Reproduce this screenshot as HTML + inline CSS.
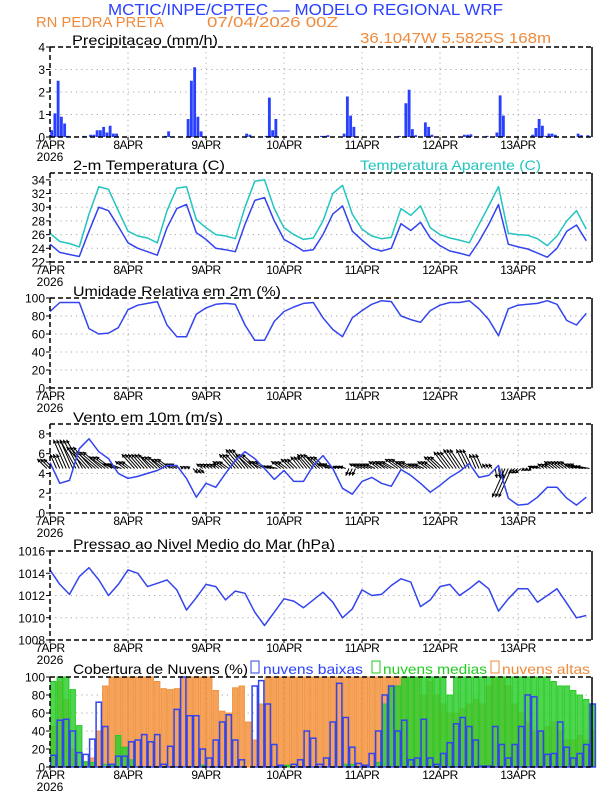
<!DOCTYPE html>
<html><head><meta charset="utf-8"><style>
html,body{margin:0;padding:0;background:#fff;}
svg{display:block;font-family:"Liberation Sans",sans-serif;}
</style></head><body>
<svg id="chart" width="612" height="792" viewBox="0 0 612 792" xmlns="http://www.w3.org/2000/svg">
<text x="108" y="15" font-size="16" fill="#2a40ff" textLength="395" lengthAdjust="spacingAndGlyphs">MCTIC/INPE/CPTEC — MODELO REGIONAL WRF</text>
<text x="36" y="27" font-size="15" fill="#f08a3c" textLength="128" lengthAdjust="spacingAndGlyphs">RN PEDRA PRETA</text>
<text x="207" y="27" font-size="15" fill="#f08a3c" textLength="131" lengthAdjust="spacingAndGlyphs">07/04/2026 00Z</text>
<text x="360" y="43" font-size="15" fill="#f08a3c" textLength="191" lengthAdjust="spacingAndGlyphs">36.1047W 5.5825S 168m</text>
<text x="72" y="45" font-size="14" fill="#000" textLength="146" lengthAdjust="spacingAndGlyphs">Precipitacao (mm/h)</text>
<text x="73" y="170" font-size="14" fill="#000" textLength="152" lengthAdjust="spacingAndGlyphs">2-m Temperatura (C)</text>
<text x="360" y="170" font-size="14" fill="#22c4c0" textLength="181" lengthAdjust="spacingAndGlyphs">Temperatura Aparente (C)</text>
<text x="73" y="296" font-size="14" fill="#000" textLength="208" lengthAdjust="spacingAndGlyphs">Umidade Relativa em 2m (%)</text>
<text x="73" y="422" font-size="14" fill="#000" textLength="150" lengthAdjust="spacingAndGlyphs">Vento em 10m (m/s)</text>
<text x="73" y="549" font-size="14" fill="#000" textLength="262" lengthAdjust="spacingAndGlyphs">Pressao ao Nivel Medio do Mar (hPa)</text>
<text x="73" y="674" font-size="14" fill="#000" textLength="175" lengthAdjust="spacingAndGlyphs">Cobertura de Nuvens (%)</text>
<g><rect x="251" y="661" width="8" height="12" fill="none" stroke="#3344ee"/><text x="263" y="674" font-size="14" fill="#2a40ff" textLength="100" lengthAdjust="spacingAndGlyphs">nuvens baixas</text></g>
<g><rect x="372" y="661" width="8" height="12" fill="none" stroke="#22cc22"/><text x="383" y="674" font-size="14" fill="#22cc22" textLength="104" lengthAdjust="spacingAndGlyphs">nuvens medias</text></g>
<g><rect x="491" y="661" width="8" height="12" fill="none" stroke="#f08a3c"/><text x="502" y="674" font-size="14" fill="#f08a3c" textLength="88" lengthAdjust="spacingAndGlyphs">nuvens altas</text></g>
</svg>
<script>
// ---------- data ----------
const dayLabels = ["7APR","8APR","9APR","10APR","11APR","12APR","13APR"];
const precipHours  = [0,1,2,3,4,5,10,12,13,14,15,16,17,18,19,20,35,36,42,43,44,45,46,60,61,64,66,67,68,69,83,84,85,90,91,92,93,107,109,110,111,112,115,116,117,127,128,129,134,137,138,139,148,149,150,151,152,153,154,155,162,163,165];
const precipValues = [0.3,1.05,2.5,0.9,0.6,0.05,0.05,0.1,0.1,0.3,0.3,0.45,0.2,0.5,0.15,0.15,0.05,0.25,0.8,2.5,3.1,0.9,0.25,0.15,0.1,0.02,0.05,1.75,0.3,0.8,0.05,0.05,0.08,0.15,1.8,0.95,0.45,0.05,1.5,2.1,0.35,0.08,0.65,0.45,0.1,0.1,0.1,0.12,0.05,0.2,1.85,0.95,0.1,0.4,0.8,0.5,0.05,0.15,0.15,0.1,0.15,0.08,0.08];
const temp2m = [24.6,23.4,23.1,22.8,26.5,30.0,29.5,27.2, 24.8,24.0,23.5,23.0,27.0,29.8,30.4,26.3, 25.3,24.0,23.8,23.5,27.5,31.0,31.4,28.0, 25.3,24.5,23.6,23.8,26.0,29.0,30.2,26.5, 25.2,24.0,23.6,24.0,27.6,26.6,27.8,25.5, 24.4,23.6,23.3,22.9,25.0,27.5,30.4,24.6, 24.2,23.9,23.3,22.7,24.0,26.5,27.4,25.1];
const tempApparent = [26.2,25.0,24.7,24.2,29.0,33.0,32.6,29.5, 26.5,25.8,25.5,24.8,29.5,32.8,33.0,28.2, 27.0,26.0,25.8,25.4,30.0,33.8,34.0,29.8, 27.0,26.0,25.3,25.5,28.0,32.0,33.2,29.0, 26.8,25.8,25.4,25.6,29.8,28.8,30.2,27.0, 26.0,25.5,25.2,24.8,27.5,30.2,33.0,26.2, 26.0,25.9,25.4,24.4,25.8,28.0,29.5,26.8];
const relHumidity = [85,95,95,95,66,60,61,67, 87,92,94,96,70,57,57,82, 89,93,94,93,70,53,53,74, 85,90,94,95,78,65,57,78, 86,93,97,96,80,76,73,86, 92,95,95,97,88,76,58,88, 92,93,94,97,93,75,70,83];
const windSpeed = [5.1,3.0,3.3,6.5,7.5,6.2,5.5,4.0, 3.5,3.7,4.0,4.3,4.8,4.8,3.5,1.6, 3.0,2.6,4.0,5.3,6.2,5.5,4.5,3.4, 4.3,3.2,3.2,4.8,5.8,4.5,2.5,1.9, 3.2,3.6,3.0,2.7,4.4,3.8,3.0,2.1, 2.8,3.6,4.2,5.0,3.6,3.8,4.8,1.5, 0.8,0.9,1.6,2.6,2.6,1.5,0.8,1.6];
const windU = [-3,-2,-4,-5,-6,-6,-5,-4, -3,-4,-4,-4,-4,-3,-1,1.5, -2,-2,-3,-4,-5,-5,-4,-3, -3,-3,-3,-4,-4,-4,-2,-1, -3,-3,-3,-4,-4,-4,-3,-3, -4,-4,-4,-3,-2,-1,0.5,-4, -2,-1,-2,-2,-3,-3,-3,-4];
const windV = [2,3,6,6,4.5,3.5,2.5,1, 1.5,3,3,2.5,2,1,0.5,-1, 1,1,1.5,3,4,3,1.5,0.5, 1.5,2,2.5,3,2.5,1,0.5,-1.5, 1,1,1.5,1.5,2,1.5,1,1.5, 2.5,3.5,4,4,3,1,-2,-6, -1,-0.5,0.5,1,1.5,1.5,1,0.5];
const slpPressure = [1014.3,1013.0,1012.1,1013.7,1014.5,1013.4,1012.0,1013.0, 1014.3,1014.0,1012.8,1013.1,1013.4,1012.5,1010.7,1011.8, 1013.0,1012.8,1011.6,1012.4,1012.2,1010.5,1009.3,1010.5, 1011.7,1011.5,1010.9,1011.6,1012.3,1011.4,1010.0,1010.8, 1012.5,1012.0,1012.1,1012.9,1013.5,1013.2,1011.0,1011.6, 1012.8,1013.0,1012.0,1012.6,1013.3,1012.6,1010.6,1011.7, 1012.6,1012.6,1011.4,1012.0,1012.6,1011.3,1010.0,1010.2];
const cloudHigh = [45,95,75,20,0,5,10,40,90,100,100,100, 100,100,100,100,95,87,86,87,100,100,100,100, 100,85,62,60,88,90,50,30,70,100,100,100, 100,100,100,100,100,100,100,100,100,100,100,100, 100,100,100,100,100,100,100,100,100,80,95,80, 70,60,60,65,70,75,70,90,100,100,90,70, 60,50,40,40,45,50,40,30,30,35,30,40];
const cloudMid = [95,100,100,86,46,6,5,0,3,2,35,22, 8,0,0,0,0,0,0,0,0,0,0,2, 0,0,0,0,0,0,0,0,0,0,0,2, 2,0,0,0,0,0,0,0,0,3,3,0, 0,0,5,70,88,90,100,100,100,100,100,100, 100,80,100,100,100,100,100,100,100,100,100,100, 100,100,100,100,100,95,90,90,85,80,75,70];
const cloudLow = [13,52,53,40,16,14,31,72,45,3,12,12, 28,30,36,28,36,3,23,64,100,57,57,20, 10,30,50,58,30,8,0,90,96,70,25,2, 0,3,8,40,32,3,10,50,93,55,22,4, 2,15,40,80,90,40,52,8,10,53,10,3, 15,27,48,55,45,30,1,1,45,25,10,25, 45,80,78,40,14,15,50,22,10,15,25,70];

const NS = "http://www.w3.org/2000/svg";
const svg = document.getElementById("chart");
const X0 = 50, X1 = 592, PXH = 3.25;
const xs = h => X0 + h * PXH;
function mk(tag, attrs, parent) {
  const e = document.createElementNS(NS, tag);
  for (const k in attrs) e.setAttribute(k, attrs[k]);
  (parent || svg).appendChild(e);
  return e;
}
function makeY(top, bottom, vmin, vmax) {
  return v => bottom - (v - vmin) / (vmax - vmin) * (bottom - top);
}
function panel(name, top, bottom, vmin, vmax, ticks) {
  const g = mk("g", {});
  
  
  const y = makeY(top, bottom, vmin, vmax);
  ticks.forEach(t => {
    const yy = y(t);
    if (yy > top + 1 && yy < bottom - 1) {
      const l = mk("line", {x1: X0, x2: X1, y1: yy, y2: yy, stroke: "#aaa", "stroke-width": 1, "stroke-dasharray": "1.2,4"}, g);
      
      
    }
    const tl = mk("text", {x: 45, y: yy + 4.5, "font-size": 12, "text-anchor": "end", fill: "#000"}, g);
    
    
    tl.textContent = t;
    mk("line", {x1: X0 - 4, x2: X0, y1: yy, y2: yy, stroke: "#000"}, g);
  });
  for (let d = 1; d < 7; d++) {
    const gx = xs(24 * d);
    const l = mk("line", {x1: gx, x2: gx, y1: top, y2: bottom, stroke: "#aaa", "stroke-width": 1, "stroke-dasharray": "1.2,4"}, g);
    
    
  }
  dayLabels.forEach((lab, d) => {
    const t = mk("text", {x: xs(24 * d), y: bottom + 12, "font-size": 12, "text-anchor": "middle", fill: "#000", "letter-spacing": "-0.5"}, g);
    
    
    t.textContent = lab;
    mk("line", {x1: xs(24 * d), x2: xs(24 * d), y1: bottom, y2: bottom + 3, stroke: "#000"}, g);
  });
  const yr = mk("text", {x: X0, y: bottom + 24, "font-size": 12, "text-anchor": "middle", fill: "#000"}, g);
  
  
  yr.textContent = "2026";
  const plot = mk("g", {}, g);
  return {y, g, plot, top, bottom};
}
function frame(p) {
  mk("line", {x1: X0, x2: X1, y1: p.top, y2: p.top, stroke: "#000", "stroke-width": 1.5, "stroke-dasharray": "5,3"}, p.g);
  mk("line", {x1: X0, x2: X1, y1: p.bottom, y2: p.bottom, stroke: "#000", "stroke-width": 1.5, "stroke-dasharray": "5,3"}, p.g);
  mk("line", {x1: X0, x2: X0, y1: p.top, y2: p.bottom, stroke: "#000", "stroke-width": 1.5, "stroke-dasharray": "5,3"}, p.g);
  mk("line", {x1: X1, x2: X1, y1: p.top, y2: p.bottom, stroke: "#000", "stroke-width": 1.5}, p.g);
}
function line(p, vals, step, color, name) {
  const d = vals.map((v, i) => (i ? "L" : "M") + xs(i * step).toFixed(1) + "," + p.y(v).toFixed(1)).join("");
  const path = mk("path", {d, fill: "none", stroke: color, "stroke-width": 1.5, "stroke-linejoin": "round"}, p.plot);
  
  
}

const pP = panel("precip", 47, 137, 0, 4, [0,1,2,3,4]);
precipHours.forEach((h, i) => {
  const y0 = pP.y(0), y1 = pP.y(precipValues[i]);
  const r = mk("rect", {x: xs(h) + 0.2, y: y1, width: PXH - 0.4, height: Math.max(0.5, y0 - y1), fill: "#2a40ff"}, pP.plot);
  
  
});
frame(pP);

const pT = panel("temp", 173, 262, 22, 35, [22,24,26,28,30,32,34]);
line(pT, tempApparent, 3, "#22c4c0", "apparent-temp-line");
line(pT, temp2m, 3, "#3344ee", "temp-line");
frame(pT);

const pR = panel("rh", 298, 388, 0, 100, [0,20,40,60,80,100]);
line(pR, relHumidity, 3, "#3344ee", "rh-line");
frame(pR);

const pW = panel("wind", 424, 513, 0, 9, [0,2,4,6,8]);
const WKX = 3.2, WKY = 4.8, baseY = pW.y(4.5);
windU.forEach((u, i) => {
  const v = windV[i];
  [-1, 0, 1].forEach(off => {
    const bx = xs(i * 3 + off), tx = bx + u * WKX, ty = baseY - v * WKY;
    const a = mk("line", {x1: bx, y1: baseY, x2: tx, y2: ty, stroke: "#000", "stroke-width": 1}, pW.plot);
    
    
    const ang = Math.atan2(ty - baseY, tx - bx), L = 4;
    const hd = mk("path", {d: `M${tx},${ty}L${tx - L * Math.cos(ang - 0.5)},${ty - L * Math.sin(ang - 0.5)}L${tx - L * Math.cos(ang + 0.5)},${ty - L * Math.sin(ang + 0.5)}Z`, fill: "#000"}, pW.plot);
    
    
  });
});
line(pW, windSpeed, 3, "#3344ee", "wind-speed-line");
frame(pW);

const pS = panel("pressure", 551, 640, 1008, 1016, [1008,1010,1012,1014,1016]);
line(pS, slpPressure, 3, "#3344ee", "pressure-line");
frame(pS);

const pC = panel("cloud", 677, 767, 0, 100, [0,20,40,60,80,100]);
function bars(vals, fill, stroke, op, name, sw) {
  vals.forEach((v, i) => {
    const y1 = pC.y(v), y0 = pC.y(0);
    const r = mk("rect", {x: xs(i * 2) + 0.6, y: y1, width: 2 * PXH - 1.2, height: y0 - y1, fill, "fill-opacity": op, stroke, "stroke-width": sw}, pC.plot);
    
    
  });
}
bars(cloudHigh, "#f5a35a", "#f0913c", 1, "cloud-high-bar", 1);
bars(cloudMid, "#33cc33", "#22cc22", 0.85, "cloud-mid-bar", 1);
bars(cloudLow, "none", "#3344ee", 1, "cloud-low-bar", 1.5);
frame(pC);
</script>
</body></html>
